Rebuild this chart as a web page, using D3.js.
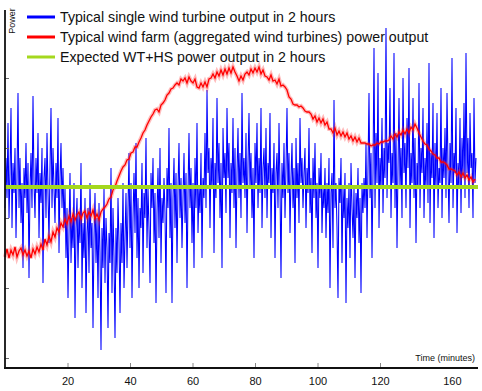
<!DOCTYPE html>
<html><head><meta charset="utf-8">
<script src="https://cdn.jsdelivr.net/npm/d3@7"></script>
<style>html,body{margin:0;padding:0;background:#fff;}svg{display:block;}</style>
</head><body><svg id="c" width="482" height="391"></svg>
<script>
// Time step (minutes) of each series
const blueStep = 0.32;
const redStep = 0.64;
// Typical single wind turbine output (power units)
const blueValues = [
150,200,160,235,140,185,250,130,195,165,210,120,180,265,150,200,135,175,90,190,
160,215,145,195,80,170,205,150,262,175,140,200,165,225,120,185,155,210,75,180,
200,140,225,165,115,190,250,150,210,170,135,195,160,240,105,180,215,150,190,130,
170,100,150,60,125,185,95,140,110,175,40,130,160,90,145,115,195,70,135,100,
160,45,125,150,85,175,110,135,30,120,165,95,140,60,155,105,8,130,90,170,
75,140,110,30,125,95,190,65,150,100,20,130,85,160,115,45,135,95,175,70,
120,165,90,150,205,110,175,60,140,185,125,215,100,160,70,150,130,195,85,165,
140,220,110,170,130,75,185,150,200,115,165,55,145,190,120,210,95,160,135,180,
145,65,190,150,230,120,175,55,160,200,130,185,95,170,215,140,180,110,160,205,
135,185,70,165,225,150,190,115,175,90,200,150,235,125,170,145,205,100,180,160,
225,150,268,185,210,130,200,170,240,105,195,160,260,175,215,140,195,90,230,180,
205,145,250,180,215,120,195,165,240,150,210,110,185,230,160,205,140,265,175,200,
160,225,125,195,245,170,205,140,190,100,215,175,235,150,200,165,250,130,190,210,
160,230,140,195,175,245,120,190,165,215,100,185,205,150,235,170,80,195,160,215,
140,190,250,165,205,125,180,215,150,190,95,220,160,195,135,240,175,200,150,185,
210,130,190,165,230,145,180,105,200,160,215,140,175,90,190,160,205,125,170,150,
190,120,175,145,200,70,165,185,110,258,150,175,130,60,180,155,200,95,170,140,
185,55,160,130,175,100,195,150,120,170,80,165,140,190,115,160,65,175,145,180,
150,215,120,190,265,160,205,100,185,310,150,225,175,285,130,200,170,240,145,210,
180,330,160,215,195,270,140,205,175,305,150,225,110,190,260,170,210,140,280,185,
215,150,240,190,290,130,205,175,260,160,220,115,195,170,275,150,210,185,250,140,
200,170,235,155,295,135,205,180,255,120,215,170,245,150,190,175,270,140,210,180,
230,160,265,190,135,215,175,300,150,205,185,250,125,195,170,240,145,220,180,255,
160,305,185,220,150,245,190,205,140,260,175,200
];
// Typical wind farm (aggregated) power output
const redValues = [
101,109,100,108,103,111,101,107,110,103,
108,102,107,100,109,104,111,106,114,108,
119,113,122,116,126,121,130,126,135,131,
139,134,142,136,144,138,143,146,139,145,
147,140,146,142,148,139,144,138,146,149,
151,154,159,161,168,171,177,182,187,191,
193,198,199,205,206,211,211,216,220,225,
228,233,237,241,244,248,249,246,253,255,
258,263,265,269,270,273,275,273,279,277,
280,275,281,277,275,279,271,270,275,271,
276,271,279,280,284,280,286,282,288,283,
289,284,290,285,291,286,282,277,282,278,
284,286,283,289,285,290,286,291,284,288,
282,281,278,283,277,278,274,279,272,273,
271,268,261,259,254,253,253,251,252,250,
247,246,246,244,239,242,236,240,235,239,
233,236,229,229,225,230,223,227,222,226,
221,225,219,222,217,221,216,220,215,215,
215,214,214,212,213,213,215,214,216,216,
217,217,218,222,219,224,221,226,223,228,
224,229,225,231,228,234,230,225,221,217,
214,213,209,207,204,203,200,200,196,196,
195,193,189,189,188,187,183,186,181,185,
180,183,178,181,176,179
];
// Expected WT+HS power output (constant level)
const expectedValue = 171;
// Axis ticks
const xTickValues = [20,40,60,80,100,120,143];
const xTickLabels = ["20","40","60","80","100","120","160"];
const yTickValues = [0,70,140,210,280];
const legendLabels = [
  "Typical single wind turbine output in 2 hours",
  "Typical wind farm (aggregated wind turbines) power output",
  "Expected WT+HS power output in 2 hours"
];
const legendColors = ["#0000ff","#ff0000","#a4d81e"];

const svg = d3.select("#c");
const x = d3.scaleLinear().domain([0,151.36]).range([5,478]);
const y = d3.scaleLinear().domain([-10,350]).range([368,8]);
const font = "'Liberation Sans', Arial, sans-serif";

const blueData = blueValues.map((v,i)=>[i*blueStep, v]);
const redData = redValues.map((v,i)=>[i*redStep, v]);
const line = d3.line().x(d=>x(d[0])).y(d=>y(d[1]));

svg.append("path").datum(blueData).attr("d",line)
  .attr("fill","none").attr("stroke","#0000ff").attr("stroke-width",1.05);
svg.append("path").datum(redData).attr("d",line)
  .attr("fill","none").attr("stroke","#ff2020").attr("stroke-opacity",0.3).attr("stroke-width",4);
svg.append("path").datum(redData).attr("d",line)
  .attr("fill","none").attr("stroke","#ff0000").attr("stroke-width",1.3);
svg.append("line")
  .attr("x1",x(0)).attr("x2",x(151.36)).attr("y1",y(expectedValue)).attr("y2",y(expectedValue))
  .attr("stroke","#a4d81e").attr("stroke-width",4);

// axes
const xAxis = svg.append("g").attr("transform","translate(0,368)")
  .call(d3.axisBottom(x).tickValues(xTickValues).tickSize(-5).tickPadding(9)
    .tickFormat((d,i)=>xTickLabels[i]));
xAxis.select(".domain").remove();
xAxis.selectAll(".tick line").attr("stroke","#888");
xAxis.selectAll(".tick").filter((d,i)=>i===xTickValues.length-1).select("line").remove();
xAxis.selectAll("text").attr("font-family",font).attr("font-size",11).attr("fill","#111");

const yAxis = svg.append("g").attr("transform","translate(5,0)")
  .call(d3.axisLeft(y).tickValues(yTickValues).tickSize(-4).tickFormat(""));
yAxis.select(".domain").remove();
yAxis.selectAll(".tick line").attr("stroke","#666");

svg.append("line").attr("x1",5).attr("x2",5).attr("y1",10).attr("y2",368.5)
  .attr("stroke","#111").attr("stroke-width",1.8);
svg.append("line").attr("x1",4).attr("x2",478).attr("y1",368).attr("y2",368)
  .attr("stroke","#111").attr("stroke-width",1.8);

svg.append("text").attr("transform","translate(15,21) rotate(-90)")
  .attr("text-anchor","middle").attr("font-family",font).attr("font-size",9)
  .attr("fill","#111").text("Power");
svg.append("text").attr("x",475).attr("y",361).attr("text-anchor","end")
  .attr("font-family",font).attr("font-size",9).attr("fill","#111").text("Time (minutes)");

// legend
const lg = svg.append("g");
legendLabels.forEach((t,i)=>{
  const yy = 17 + i*20;
  lg.append("line").attr("x1",27).attr("x2",55).attr("y1",yy).attr("y2",yy)
    .attr("stroke",legendColors[i]).attr("stroke-width",3);
  lg.append("text").attr("x",60).attr("y",yy+5).attr("font-family",font)
    .attr("font-size",14.2).attr("fill","#111").text(t);
});
</script></body></html>
